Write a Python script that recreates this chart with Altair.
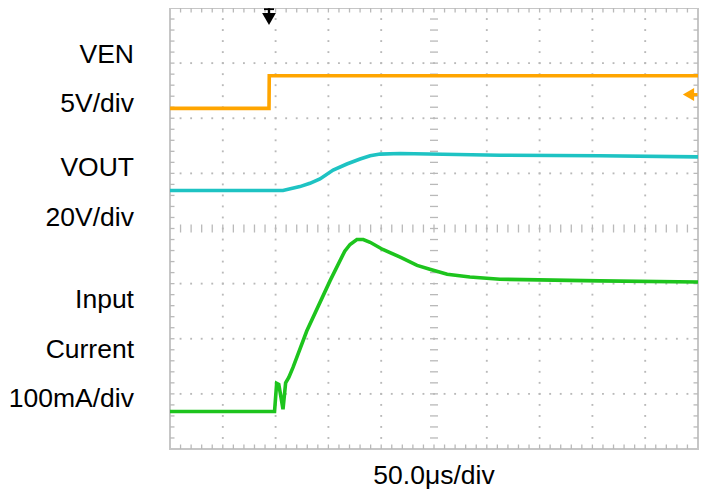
import altair as alt
import pandas as pd

# ---- trace data (x in time divisions 0..10, y in screen divisions 0..8) ----
ven_x = [0, 1.875, 1.880, 10]
ven_y = [6.18, 6.18, 6.77, 6.77]

vout_x = [0, 2.14, 2.46, 2.65, 2.84, 3.09, 3.35, 3.60, 3.79, 3.98, 4.36, 6.25, 8.14, 10]
vout_y = [4.69, 4.69, 4.76, 4.82, 4.90, 5.06, 5.17, 5.26, 5.32, 5.35, 5.36, 5.33, 5.32, 5.30]

cur_x = [0, 1.98, 2.02, 2.06, 2.10, 2.14, 2.19, 2.25, 2.33, 2.59, 3.03, 3.31,
         3.41, 3.54, 3.66, 3.79, 4.03, 4.36, 4.68, 4.92, 5.25, 5.68, 6.25, 8.14, 10]
cur_y = [0.68, 0.68, 1.19, 1.17, 0.95, 0.72, 1.20, 1.30, 1.48, 2.14, 3.05, 3.59,
         3.71, 3.80, 3.80, 3.75, 3.62, 3.48, 3.33, 3.26, 3.17, 3.12, 3.08, 3.05, 3.03]

series_names = ["VEN", "VOUT", "Input Current"]
series_colors = ["#FFA500", "#1EC3C3", "#1DC41D"]

labels = ["VEN", "5V/div", "VOUT", "20V/div", "Input", "Current", "100mA/div"]
label_baseline_px = [55, 104, 168, 218, 300, 350, 399]
x_label = "50.0\u03bcs/div"

trigger_x = 1.875
ground_y = 6.43

W, H = 528, 441
XD, YD = 10, 8
px_x = W / XD
px_y = H / YD

xs = alt.Scale(domain=[0, XD], nice=False, zero=False)
ys = alt.Scale(domain=[0, YD], nice=False, zero=False)

def X(f):
    return alt.X(f, type="quantitative", scale=xs, axis=None)

def Y(f):
    return alt.Y(f, type="quantitative", scale=ys, axis=None)

# ---- grid dots ----
dots = []
for gx in [1, 2, 3, 4, 6, 7, 8, 9]:
    for k in range(1, YD * 5):
        dots.append({"x": gx, "y": k / 5})
for gy in [1, 2, 3, 5, 6, 7]:
    for k in range(1, XD * 5):
        dots.append({"x": k / 5, "y": gy})
dots_df = pd.DataFrame(dots)

# ---- tick segments ----
fdx, fdy = 4.5 / px_x, 4.5 / px_y
cdx, cdy = 4.0 / px_x, 4.0 / px_y
segs = []
for k in range(1, XD * 5):
    x = k / 5
    segs.append({"x": x, "x2": x, "y": YD, "y2": YD - fdy})
    segs.append({"x": x, "x2": x, "y": 0, "y2": fdy})
    segs.append({"x": x, "x2": x, "y": YD / 2 - cdy, "y2": YD / 2 + cdy})
for k in range(1, YD * 5):
    y = k / 5
    segs.append({"x": 0, "x2": fdx, "y": y, "y2": y})
    segs.append({"x": XD - fdx, "x2": XD, "y": y, "y2": y})
    segs.append({"x": XD / 2 - cdx, "x2": XD / 2 + cdx, "y": y, "y2": y})
segs_df = pd.DataFrame(segs)

grid_color = "#b9b9b9"

frame = alt.Chart(pd.DataFrame([{"x": 0, "x2": XD, "y": 0, "y2": YD}])).mark_rect(
    fillOpacity=0, stroke="#c6c6c6", strokeWidth=2
).encode(x=X("x"), x2="x2", y=Y("y"), y2="y2")

dot_layer = alt.Chart(dots_df).mark_square(size=3.5, color=grid_color, opacity=1).encode(
    x=X("x"), y=Y("y")
)

tick_layer = alt.Chart(segs_df).mark_rule(color=grid_color, strokeWidth=1.3).encode(
    x=X("x"), x2="x2", y=Y("y"), y2="y2"
)

traces = pd.concat([
    pd.DataFrame({"t": ven_x, "v": ven_y, "s": series_names[0]}),
    pd.DataFrame({"t": vout_x, "v": vout_y, "s": series_names[1]}),
    pd.DataFrame({"t": cur_x, "v": cur_y, "s": series_names[2]}),
])

trace_layer = alt.Chart(traces).mark_line(strokeWidth=3.6, strokeJoin="miter").encode(
    x=X("t"), y=Y("v"),
    color=alt.Color("s:N", scale=alt.Scale(domain=series_names, range=series_colors), legend=None),
    detail="s:N",
)

# trigger marker (black arrow at top)
trig_df = pd.DataFrame([{"x": trigger_x, "y": YD - 11 / px_y, "y0": YD - 0.3 / px_y}])
trig_stem = alt.Chart(trig_df).mark_rule(color="black", strokeWidth=2.4).encode(
    x=X("x"), y=Y("y"), y2="y0"
)
trig_bar = alt.Chart(pd.DataFrame([{"x": trigger_x - 5 / px_x, "x2": trigger_x + 5 / px_x,
                                    "y": YD - 1.2 / px_y}])).mark_rule(color="black", strokeWidth=1.8).encode(
    x=X("x"), x2="x2", y=Y("y")
)
trig_head = alt.Chart(trig_df).mark_point(shape="triangle-down", filled=True, size=190,
                                          color="black", opacity=1).encode(
    x=X("x"), y=alt.Y("y", type="quantitative", scale=ys, axis=None)
)

# ground reference marker (orange arrow at right)
gnd_df = pd.DataFrame([{"x": XD - 9.5 / px_x, "x1": XD - 6 / px_x, "x2": XD - 0.5 / px_x, "y": ground_y}])
gnd_head = alt.Chart(gnd_df).mark_point(shape="triangle-left", filled=True, size=170,
                                        color="#FFA500", opacity=1).encode(x=X("x"), y=Y("y"))
gnd_stem = alt.Chart(gnd_df).mark_rule(color="#FFA500", strokeWidth=3).encode(
    x=X("x1"), x2="x2", y=Y("y")
)

text_layers = []
for lab, by in zip(labels, label_baseline_px):
    text_layers.append(
        alt.Chart(pd.DataFrame([{"t": lab}])).mark_text(
            align="right", baseline="alphabetic", font="Liberation Sans",
            fontSize=26.5, color="black"
        ).encode(x=alt.value(-36), y=alt.value(by), text="t:N")
    )
text_layers.append(
    alt.Chart(pd.DataFrame([{"t": x_label}])).mark_text(
        align="center", baseline="alphabetic", font="Liberation Sans",
        fontSize=26.5, color="black"
    ).encode(x=alt.value(W / 2), y=alt.value(476), text="t:N")
)

chart = alt.layer(
    frame, dot_layer, tick_layer, trace_layer, trig_stem, trig_bar, trig_head,
    gnd_stem, gnd_head, *text_layers
).properties(
    width=W, height=H,
    autosize=alt.AutoSizeParams(type="none"),
    padding={"left": 162, "top": 0, "right": 6, "bottom": 45},
    background="white",
).configure_view(strokeWidth=0)

chart.save("out.html", embed_options={"renderer": "svg", "actions": False})
